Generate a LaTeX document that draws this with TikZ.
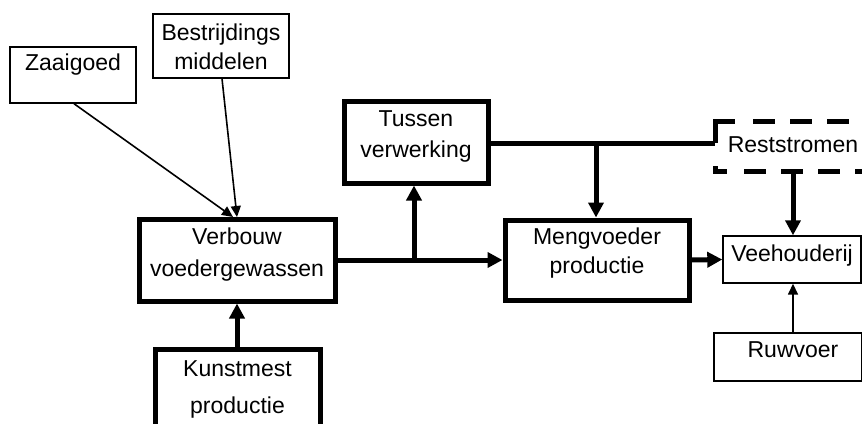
\documentclass[tikz,border=0pt]{standalone}
\usepackage{fontspec}
\setmainfont{Liberation Sans}
\usetikzlibrary{arrows.meta}
\tikzset{
  thinbox/.style={draw, line width=1.4pt, fill=white, inner sep=0pt},
  thickbox/.style={draw, line width=5pt, fill=white, inner sep=0pt},
  dashedge/.style={line width=5pt, dash pattern=on 22pt off 15pt},
  solidedge/.style={line width=5pt},
  txt/.style={font=\fontsize{23}{#1}\selectfont, align=center, inner sep=0pt},
  txt/.default=30,
  thickarrow/.style={line width=5pt, -{Triangle[length=15pt,width=15pt]}},
  thickline/.style={line width=5pt},
  thinarrow/.style={line width=1.6pt, -{Triangle[length=11pt,width=10pt]}},
}
\begin{document}
\begin{tikzpicture}[x=1pt,y=-1pt]
\path[use as bounding box, clip] (0,0) rectangle (862,423);
\fill[white] (0,0) rectangle (862,423);

% boxes
\node[thinbox, minimum width=126pt, minimum height=56pt] (zaai) at (73,75) {};
\node[txt] (zaait) at (73,65) {Zaaigoed};

\node[thinbox, minimum width=136pt, minimum height=64pt] (bestr) at (221,46) {};
\node[txt=29] (bestrt) at (221,47) {Bestrijdings\\middelen};

\node[thickbox, minimum width=196pt, minimum height=82pt] (verb) at (237,260) {};
\node[txt=32] (verbt) at (237,255) {Verbouw\\voedergewassen};

\node[thickbox, minimum width=165pt, minimum height=100pt] (kunst) at (237.5,399) {};
\node[txt=37] (kunstt) at (237.5,389) {Kunstmest\\productie};

\node[thickbox, minimum width=144pt, minimum height=82pt] (tuss) at (416,142) {};
\node[txt=31] (tusst) at (416,136) {Tussen\\verwerking};

\node[thickbox, minimum width=184pt, minimum height=80pt] (meng) at (597,260) {};
\node[txt=29] (mengt) at (597,253) {Mengvoeder\\productie};

\node[minimum width=185pt, minimum height=50pt, inner sep=0pt] (rest) at (807.5,146) {};
\node[txt] (restt) at (793,145) {Reststromen};
% dashed border of Reststromen
\draw[solidedge] (715,143) -- (715,121) -- (735,121);
\draw[dashedge] (753,121) -- (900,121);
\draw[solidedge] (715,166) -- (715,171) -- (727,171);
\draw[dashedge] (744,171) -- (900,171);

\node[thinbox, minimum width=138pt, minimum height=47pt] (veeh) at (792,259.5) {};
\node[txt] (veeht) at (792,256) {Veehouderij};

\node[thinbox, minimum width=148pt, minimum height=48pt] (ruwv) at (788,357) {};
\node[txt] (ruwvt) at (793,350) {Ruwvoer};

% junction coordinates
\coordinate (j1) at (414,260);
\coordinate (j2) at (596,143);
\coordinate (zaaiout) at (74,103);
\coordinate (bestrout) at (222,78);
\coordinate (vin1) at (233,217);
\coordinate (vin2) at (237,217);
\coordinate (restin) at (715,143);

% connectors
\draw[thinarrow] (zaai.south -| zaaiout) -- (vin1);
\draw[thinarrow] (bestr.south -| bestrout) -- (vin2);
\draw[thickarrow] (kunst.north -| verb.south) -- (verb.south);
\draw[thickarrow] (verb.east) -- (meng.west);
\draw[thickarrow] (j1) -- (j1 |- tuss.south);
\draw[thickline] (tuss.east |- j2) -- (restin);
\draw[thickarrow] (j2) -- (j2 |- meng.north);
\draw[thickarrow] (793,171) -- (veeh.north -| 793,0);
\draw[thickarrow] (meng.east) -- (veeh.west);
\draw[thinarrow] (ruwv.north -| 793,0) -- (veeh.south -| 793,0);
\end{tikzpicture}
\end{document}
